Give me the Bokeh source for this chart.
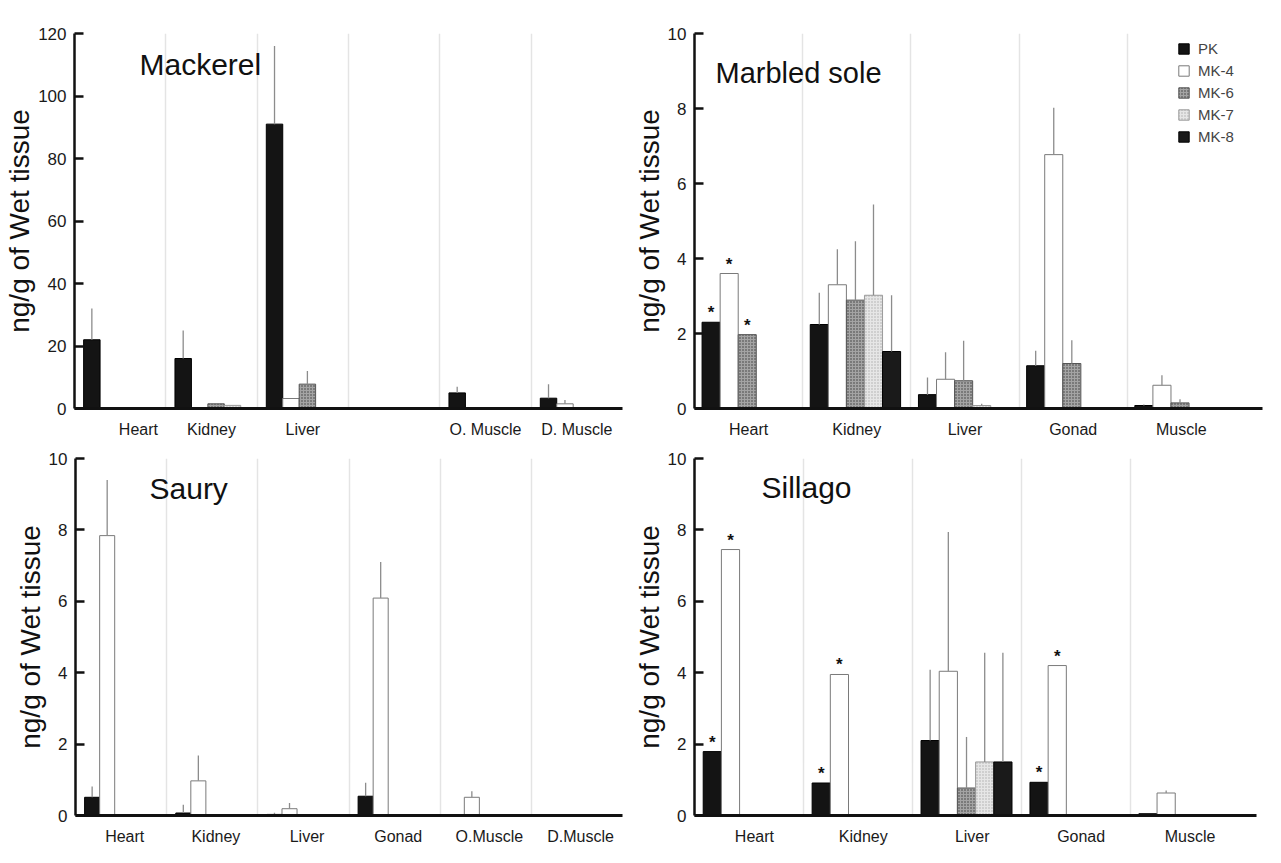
from bokeh.plotting import figure
from bokeh.models import ColumnDataSource, FixedTicker, Range1d, Label, Legend, LegendItem
from bokeh.layouts import column, row
from bokeh.embed import file_html
from bokeh.resources import INLINE
from bokeh.core.properties import value

# ---------------- data ----------------
series = ["PK", "MK-4", "MK-6", "MK-7", "MK-8"]

mackerel_tissues = ["Heart", "Kidney", "Liver", "Gonad", "O. Muscle", "D. Muscle"]
mackerel_labels = ["Heart", "Kidney", "Liver", "", "O. Muscle", "D. Muscle"]
mackerel_pk = [22.0, 16.0, 91.0, 0.0, 5.0, 3.3]
mackerel_mk4 = [0.0, 0.0, 3.2, 0.0, 0.0, 1.5]
mackerel_mk6 = [0.0, 1.5, 7.8, 0.0, 0.0, 0.0]
mackerel_mk7 = [0.0, 1.0, 0.0, 0.0, 0.0, 0.0]
mackerel_mk8 = [0.0, 0.0, 0.0, 0.0, 0.0, 0.0]
mackerel_pk_sd = [10.0, 9.0, 25.0, 0.0, 2.0, 4.5]
mackerel_mk4_sd = [0.0, 0.0, 0.0, 0.0, 0.0, 1.2]
mackerel_mk6_sd = [0.0, 0.0, 4.2, 0.0, 0.0, 0.0]
mackerel_mk7_sd = [0.0, 0.0, 0.0, 0.0, 0.0, 0.0]
mackerel_mk8_sd = [0.0, 0.0, 0.0, 0.0, 0.0, 0.0]
mackerel_stars = []

sole_tissues = ["Heart", "Kidney", "Liver", "Gonad", "Muscle"]
sole_pk = [2.3, 2.24, 0.37, 1.14, 0.08]
sole_mk4 = [3.6, 3.3, 0.78, 6.77, 0.62]
sole_mk6 = [1.97, 2.89, 0.74, 1.2, 0.15]
sole_mk7 = [0.0, 3.02, 0.08, 0.0, 0.0]
sole_mk8 = [0.0, 1.52, 0.0, 0.0, 0.0]
sole_pk_sd = [0.0, 0.85, 0.46, 0.4, 0.03]
sole_mk4_sd = [0.0, 0.95, 0.72, 1.25, 0.27]
sole_mk6_sd = [0.0, 1.57, 1.07, 0.62, 0.1]
sole_mk7_sd = [0.0, 2.42, 0.05, 0.0, 0.0]
sole_mk8_sd = [0.0, 1.5, 0.0, 0.0, 0.0]
sole_stars = [("PK", "Heart"), ("MK-4", "Heart"), ("MK-6", "Heart")]

saury_tissues = ["Heart", "Kidney", "Liver", "Gonad", "O.Muscle", "D.Muscle"]
saury_pk = [0.51, 0.07, 0.03, 0.54, 0.0, 0.0]
saury_mk4 = [7.84, 0.97, 0.19, 6.09, 0.51, 0.0]
saury_mk6 = [0.0, 0.0, 0.0, 0.0, 0.0, 0.0]
saury_mk7 = [0.0, 0.0, 0.0, 0.0, 0.0, 0.0]
saury_mk8 = [0.0, 0.0, 0.0, 0.0, 0.0, 0.0]
saury_pk_sd = [0.3, 0.23, 0.05, 0.38, 0.0, 0.0]
saury_mk4_sd = [1.56, 0.71, 0.16, 1.01, 0.17, 0.0]
saury_mk6_sd = [0.0, 0.0, 0.0, 0.0, 0.0, 0.0]
saury_mk7_sd = [0.0, 0.0, 0.0, 0.0, 0.0, 0.0]
saury_mk8_sd = [0.0, 0.0, 0.0, 0.0, 0.0, 0.0]
saury_stars = []

sillago_tissues = ["Heart", "Kidney", "Liver", "Gonad", "Muscle"]
sillago_pk = [1.79, 0.91, 2.1, 0.93, 0.05]
sillago_mk4 = [7.45, 3.95, 4.04, 4.2, 0.63]
sillago_mk6 = [0.0, 0.0, 0.77, 0.0, 0.0]
sillago_mk7 = [0.0, 0.0, 1.5, 0.0, 0.0]
sillago_mk8 = [0.0, 0.0, 1.5, 0.0, 0.0]
sillago_pk_sd = [0.0, 0.0, 1.98, 0.0, 0.0]
sillago_mk4_sd = [0.0, 0.0, 3.9, 0.0, 0.07]
sillago_mk6_sd = [0.0, 0.0, 1.43, 0.0, 0.0]
sillago_mk7_sd = [0.0, 0.0, 3.06, 0.0, 0.0]
sillago_mk8_sd = [0.0, 0.0, 3.06, 0.0, 0.0]
sillago_stars = [("PK", "Heart"), ("MK-4", "Heart"), ("PK", "Kidney"),
                 ("MK-4", "Kidney"), ("PK", "Gonad"), ("MK-4", "Gonad")]

# ---------------- styling ----------------
FONT = "Liberation Sans"
STYLES = {
    "PK": dict(fill_color="#141414", line_color="#000000"),
    "MK-4": dict(fill_color="#ffffff", line_color="#7a7a7a"),
    "MK-6": dict(fill_color="#a4a4a4", line_color="#555555", hatch_pattern="dot",
                 hatch_color="#3c3c3c", hatch_scale=3, hatch_weight=1),
    "MK-7": dict(fill_color="#e6e6e6", line_color="#9a9a9a", hatch_pattern="dot",
                 hatch_color="#acacac", hatch_scale=3, hatch_weight=1),
    "MK-8": dict(fill_color="#1a1a1a", line_color="#000000"),
}


def make_panel(title, tissues, tick_labels, tick_pos, values, sds, stars,
               y_end, y_ticks, width, height, border, x_end, offset, bw,
               title_pos, title_size, legend_pos=None):
    left, right, top, bottom = border
    p = figure(width=width, height=height, output_backend="svg", toolbar_location=None,
               x_range=Range1d(0, x_end), y_range=Range1d(0, y_end),
               min_border_left=left, min_border_right=right,
               min_border_top=top, min_border_bottom=bottom)
    p.outline_line_color = None
    p.background_fill_color = "white"
    p.ygrid.visible = False
    p.xgrid.ticker = FixedTicker(ticks=list(range(1, len(tissues))))
    p.xgrid.grid_line_color = "#e4e4e4"
    p.xgrid.grid_line_width = 1.5

    renderers = {}
    for s, name in enumerate(series):
        xs, tops, his = [], [], []
        for g, v in enumerate(values[s]):
            if v > 0:
                xs.append(g + offset + (s + 0.5) * bw)
                tops.append(v)
                his.append(v + sds[s][g])
        src = ColumnDataSource(dict(x=xs, top=tops, hi=his))
        r = p.vbar(x="x", top="top", bottom=0, width=bw, source=src,
                   line_width=1, **STYLES[name])
        p.segment(x0="x", y0="top", x1="x", y1="hi", source=src,
                  line_color="#8c8c8c", line_width=1.3)
        renderers[name] = r

    sx, sy = [], []
    for name, tissue in stars:
        s = series.index(name)
        g = tissues.index(tissue)
        sx.append(g + offset + (s + 0.5) * bw)
        sy.append(values[s][g])
    if sx:
        p.text(x=sx, y=sy, text=["*"] * len(sx), text_align="center",
               text_baseline="bottom", text_font=value(FONT),
               text_font_size="17px", text_font_style="bold", text_color="#111111")

    # axes
    p.xaxis.ticker = FixedTicker(ticks=tick_pos)
    p.xaxis.major_label_overrides = {t: lab for t, lab in zip(tick_pos, tick_labels)}
    p.xaxis.major_tick_line_color = None
    p.xaxis.minor_tick_line_color = None
    p.xaxis.axis_line_width = 3
    p.xaxis.axis_line_color = "#111111"
    p.xaxis.major_label_text_font = FONT
    p.xaxis.major_label_text_font_size = "16px"
    p.xaxis.major_label_text_color = "#1a1a1a"
    p.xaxis.major_label_standoff = 6

    p.yaxis.ticker = FixedTicker(ticks=y_ticks)
    p.yaxis.major_tick_in = 9
    p.yaxis.major_tick_out = 0
    p.yaxis.major_tick_line_width = 2.5
    p.yaxis.major_tick_line_color = "#111111"
    p.yaxis.minor_tick_line_color = None
    p.yaxis.axis_line_width = 2.5
    p.yaxis.axis_line_color = "#111111"
    p.yaxis.major_label_text_font = FONT
    p.yaxis.major_label_text_font_size = "17px"
    p.yaxis.major_label_text_color = "#1a1a1a"
    p.yaxis.major_label_standoff = 8
    p.yaxis.axis_label = "ng/g of Wet tissue"
    p.yaxis.axis_label_text_font = FONT
    p.yaxis.axis_label_text_font_size = "28px"
    p.yaxis.axis_label_text_font_style = "normal"
    p.yaxis.axis_label_text_color = "#111111"
    p.yaxis.axis_label_standoff = 0

    frame_h = height - top - bottom
    p.add_layout(Label(x=title_pos[0], y=frame_h - title_pos[1], x_units="screen",
                       y_units="screen", text=title, text_font=FONT,
                       text_font_size=title_size, text_color="#111111",
                       text_baseline="alphabetic"))

    if legend_pos is not None:
        legend = Legend(items=[LegendItem(label=n, renderers=[renderers[n]]) for n in series],
                        location=legend_pos, border_line_color=None,
                        background_fill_alpha=0, glyph_width=13, glyph_height=13,
                        label_text_font=FONT, label_text_font_size="15px",
                        label_height=20, spacing=2, padding=0, margin=0,
                        label_standoff=8)
        p.add_layout(legend)
    return p


def centers(n, shift=0.0):
    return [g + 0.5 + shift for g in range(n)]


mack_ticks = centers(len(mackerel_tissues))
mack_ticks[0] = 0.7
f1 = make_panel("Mackerel", mackerel_tissues, mackerel_labels, mack_ticks,
                [mackerel_pk, mackerel_mk4, mackerel_mk6, mackerel_mk7, mackerel_mk8],
                [mackerel_pk_sd, mackerel_mk4_sd, mackerel_mk6_sd, mackerel_mk7_sd, mackerel_mk8_sd],
                mackerel_stars, 120, [0, 20, 40, 60, 80, 100, 120],
                630, 440, (74, 8, 13, 27), 6, 0.1, 0.18, (65, 56), "30px")

f2 = make_panel("Marbled sole", sole_tissues, sole_tissues, centers(len(sole_tissues)),
                [sole_pk, sole_mk4, sole_mk6, sole_mk7, sole_mk8],
                [sole_pk_sd, sole_mk4_sd, sole_mk6_sd, sole_mk7_sd, sole_mk8_sd],
                sole_stars, 10, [0, 2, 4, 6, 8, 10],
                635, 440, (59, 3, 33, 32), 5.25, 0.07, 0.167, (21, 39), "29px",
                legend_pos=(483, 262))

f3 = make_panel("Saury", saury_tissues, saury_tissues, centers(len(saury_tissues), 0.04),
                [saury_pk, saury_mk4, saury_mk6, saury_mk7, saury_mk8],
                [saury_pk_sd, saury_mk4_sd, saury_mk6_sd, saury_mk7_sd, saury_mk8_sd],
                saury_stars, 10, [0, 2, 4, 6, 8, 10],
                630, 407, (75, 8, 18, 25), 6, 0.1, 0.165, (74, 37), "30px")

f4 = make_panel("Sillago", sillago_tissues, sillago_tissues, centers(len(sillago_tissues), 0.05),
                [sillago_pk, sillago_mk4, sillago_mk6, sillago_mk7, sillago_mk8],
                [sillago_pk_sd, sillago_mk4_sd, sillago_mk6_sd, sillago_mk7_sd, sillago_mk8_sd],
                sillago_stars, 10, [0, 2, 4, 6, 8, 10],
                635, 407, (59, 9, 15, 25), 5.16, 0.08, 0.167, (67, 39), "30px")

layout = column(row(f1, f2), row(f3, f4))

open("out.html", "w").write(file_html(layout, INLINE))
